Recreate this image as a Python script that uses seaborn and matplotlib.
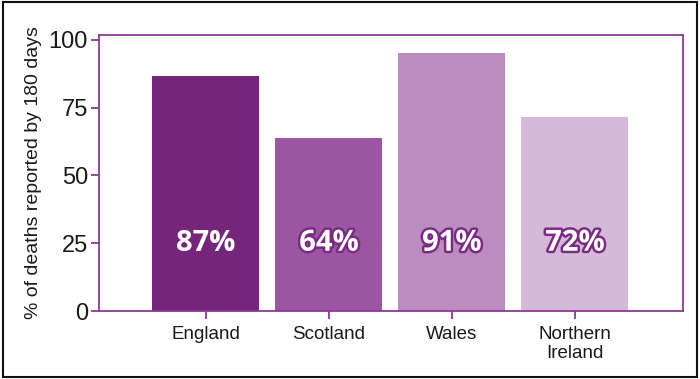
import matplotlib
matplotlib.use("Agg")
import matplotlib.pyplot as plt
import matplotlib.patheffects as pe
import seaborn as sns
import pandas as pd

categories = ["England", "Scotland", "Wales", "Northern\nIreland"]
bar_values = [86.7, 63.9, 95.2, 71.5]
label_texts = ["87%", "64%", "91%", "72%"]
colors = ["#75267A", "#9A56A0", "#BA8CC0", "#D5B9D9"]

sns.set_theme(style="white")
plt.rcParams["font.family"] = ["Liberation Sans", "DejaVu Sans"]

df = pd.DataFrame({"country": categories, "value": bar_values})

fig = plt.figure(figsize=(7.0, 3.79), dpi=100)
ax = fig.add_axes([99/700, 1 - 311/379, (683-99)/700, (311-35)/379])

sns.barplot(data=df, x="country", y="value", hue="country", palette=colors,
            legend=False, width=0.87, saturation=1, linewidth=0, ax=ax)

spine_c = "#8B3A96"
for s in ax.spines.values():
    s.set_color(spine_c)
    s.set_linewidth(1.3)

ax.set_ylim(0, 101.8)
ax.set_xlim(-0.87, 3.88)
ax.set_yticks([0, 25, 50, 75, 100])
ax.tick_params(axis="both", which="both", direction="out", color=spine_c,
               length=6, width=1.3, bottom=True, left=True)
ax.tick_params(axis="y", labelsize=17, colors=spine_c, labelcolor="#1a1a1a", pad=2)
ax.tick_params(axis="x", labelsize=13.5, colors=spine_c, labelcolor="#1a1a1a", pad=5)
for lab in ax.get_xticklabels():
    lab.set_linespacing(1.1)
ax.set_xlabel("")
ax.set_ylabel("% of deaths reported by 180 days", fontsize=14, color="#1a1a1a", labelpad=5)

for i, (txt, c) in enumerate(zip(label_texts, colors)):
    t = ax.text(i, 25, txt, ha="center", va="center", fontsize=21, fontweight="bold",
                color="white", family=["Open Sans", "DejaVu Sans"])
    if i > 0:
        t.set_path_effects([pe.withStroke(linewidth=3.5, foreground="#7A2A82")])

# outer frame
fig.patches.append(plt.Rectangle((0.004, 0.006), 0.992, 0.988, transform=fig.transFigure,
                                 fill=False, edgecolor="#111111", linewidth=1.5))

fig.savefig("out.png", dpi=100)
